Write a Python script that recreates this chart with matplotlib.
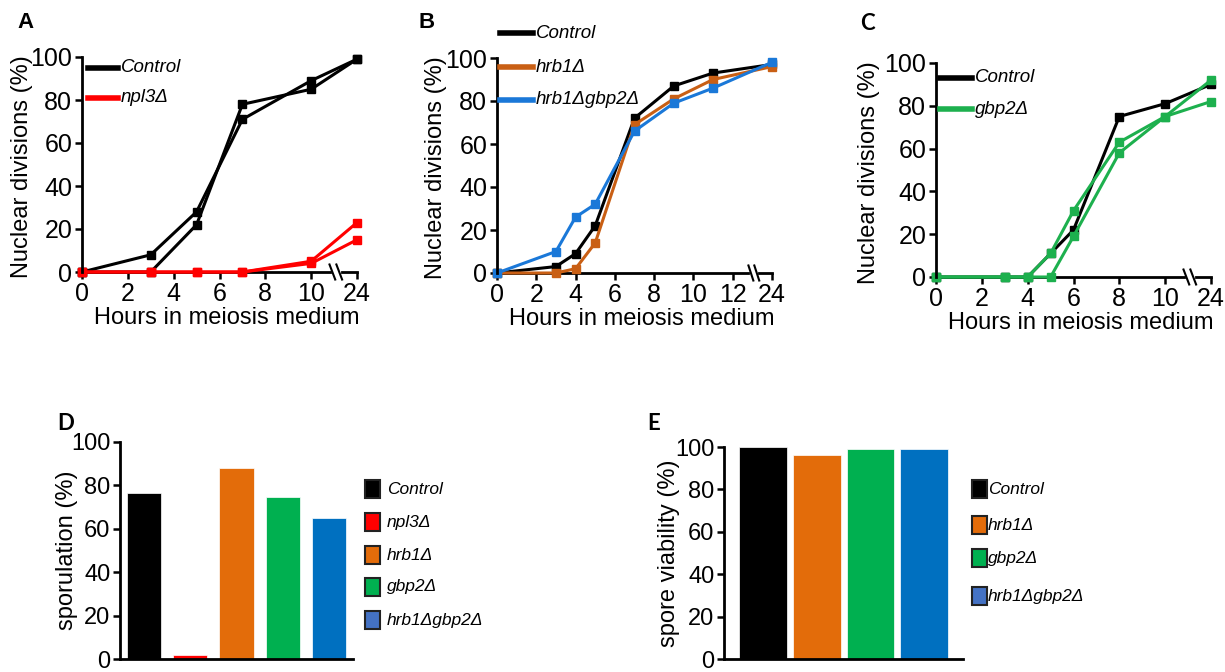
import matplotlib
matplotlib.use("Agg")
import matplotlib.pyplot as plt
from matplotlib.lines import Line2D
from matplotlib.patches import Rectangle

plt.rcParams["font.family"] = ["Liberation Sans", "DejaVu Sans"]

# panel A: nuclear divisions, control vs npl3
hours_a = [0, 3, 5, 7, 10, 24]
control_a1 = [0, 8, 28, 71, 89, 99]
control_a2 = [0, 0, 22, 78, 85, 99]
npl3_a1 = [0, 0, 0, 0, 5, 23]
npl3_a2 = [0, 0, 0, 0, 4, 15]

# panel B
hours_b = [0, 3, 4, 5, 7, 9, 11, 24]
control_b = [0, 3, 9, 22, 72, 87, 93, 97]
hrb1_b = [0, 0, 2, 14, 69, 81, 90, 96]
hrb1gbp2_b = [0, 10, 26, 32, 66, 79, 86, 98]

# panel C
hours_c = [0, 3, 4, 5, 6, 8, 10, 24]
control_c = [0, 0, 0, 11, 22, 75, 81, 90]
gbp2_c1 = [0, 0, 0, 11, 31, 63, 75, 92]
gbp2_c2 = [0, 0, 0, 0, 19, 58, 75, 82]

# panel D / E
strains_d = ["Control", "npl3Δ", "hrb1Δ", "gbp2Δ", "hrb1Δgbp2Δ"]
sporulation = [76.5, 2, 88, 74.5, 65]
strains_e = ["Control", "hrb1Δ", "gbp2Δ", "hrb1Δgbp2Δ"]
viability = [100, 96, 99, 99]

BLACK = "#000000"
RED = "#ff0000"
ORANGE = "#c95f14"
BLUE = "#1a78d8"
GREEN = "#1db04e"
bar_colors = {"Control": "#000000", "npl3Δ": "#ff0000", "hrb1Δ": "#e36c0a",
              "gbp2Δ": "#00b050", "hrb1Δgbp2Δ": "#0070c0"}
legend_colors = {"Control": "#000000", "npl3Δ": "#ff0000", "hrb1Δ": "#e36c0a",
                 "gbp2Δ": "#00b050", "hrb1Δgbp2Δ": "#4472c4"}

W, H = 1225, 672
fig = plt.figure(figsize=(W / 100, H / 100), dpi=100)

FS = 17


def px_axes(left, top, right, bottom):
    return fig.add_axes([left / W, 1 - bottom / H, (right - left) / W, (bottom - top) / H])


def style(ax, tick_fs=18):
    for s in ["top", "right"]:
        ax.spines[s].set_visible(False)
    ax.spines["left"].set_linewidth(2)
    ax.spines["bottom"].set_linewidth(2)
    ax.tick_params(width=1.8, length=5, labelsize=tick_fs, pad=2)


def time_course(ax, last, brk, series, ylab_x):
    style(ax)
    ax.spines["bottom"].set_visible(False)
    tr = ax.get_xaxis_transform()
    ax.plot([0, brk - 0.2], [0, 0], color="k", lw=2, transform=tr, clip_on=False)
    ax.plot([brk + 0.35, last], [0, 0], color="k", lw=2, transform=tr, clip_on=False)
    for dx in (-0.2, 0.1):
        ax.plot([brk + dx, brk + dx + 0.25], [0.035, -0.035], color="k", lw=1.5,
                transform=tr, clip_on=False)
    for hrs, vals, col in series:
        pos = [last if h == 24 else h for h in hrs]
        ax.plot(pos, vals, color=col, lw=2.2, marker="s", markersize=6, clip_on=False)
    ticks = list(range(0, last + 1, 2))
    ax.set_xticks(ticks)
    ax.set_xticklabels([str(t) for t in ticks[:-1]] + ["24"])
    ax.set_xlim(0, last)
    ax.set_ylim(0, 100)
    ax.set_yticks([0, 20, 40, 60, 80, 100])
    ax.set_xlabel("Hours in meiosis medium", fontsize=FS)
    ax.xaxis.set_label_coords(0.527, -0.165)
    ax.set_ylabel("Nuclear divisions (%)", fontsize=FS)
    ax.yaxis.set_label_coords(ylab_x, 0.49)


def line_legend(x0, x1, ys, cols, labels):
    for y, c, lab in zip(ys, cols, labels):
        fig.add_artist(Line2D([x0 / W, x1 / W], [1 - y / H] * 2, color=c, lw=4))
        fig.text((x1 + 3) / W, 1 - y / H, lab, fontsize=13.5, style="italic",
                 va="center", ha="left")


def patch_legend(x0, ys, labels, tx):
    for y, lab in zip(ys, labels):
        fig.add_artist(Rectangle((x0 / W, 1 - (y + 9) / H), 15 / W, 18 / H,
                                 facecolor=legend_colors[lab], edgecolor="#222222", lw=1.5))
        fig.text(tx / W, 1 - y / H, lab, fontsize=12.5, style="italic", va="center", ha="left")


# A
ax_a = px_axes(82, 57, 357, 272)
time_course(ax_a, 12, 11,
            [(hours_a, control_a1, BLACK), (hours_a, control_a2, BLACK),
             (hours_a, npl3_a1, RED), (hours_a, npl3_a2, RED)], -0.178)
line_legend(88, 118, [68, 98], [BLACK, RED], ["Control", "npl3Δ"])

# B
ax_b = px_axes(497, 58, 772, 273)
time_course(ax_b, 14, 13,
            [(hours_b, control_b, BLACK), (hours_b, hrb1_b, ORANGE),
             (hours_b, hrb1gbp2_b, BLUE)], -0.182)
line_legend(500, 533, [33, 67, 100], [BLACK, ORANGE, BLUE], ["Control", "hrb1Δ", "hrb1Δgbp2Δ"])

# C
ax_c = px_axes(936, 63, 1211, 277)
time_course(ax_c, 12, 11,
            [(hours_c, control_c, BLACK), (hours_c, gbp2_c1, GREEN),
             (hours_c, gbp2_c2, GREEN)], -0.204)
line_legend(940, 972, [78, 109], [BLACK, GREEN], ["Control", "gbp2Δ"])

# D
ax_d = px_axes(120, 442, 353, 659)
style(ax_d, 17)
ax_d.bar(range(len(strains_d)), sporulation, width=0.74,
         color=[bar_colors[s] for s in strains_d], edgecolor="white", linewidth=0.5)
ax_d.set_xlim(-0.52, len(strains_d) - 0.48)
ax_d.set_ylim(0, 100)
ax_d.set_yticks([0, 20, 40, 60, 80, 100])
ax_d.set_xticks([])
ax_d.set_ylabel("sporulation (%)", fontsize=FS)
ax_d.yaxis.set_label_coords(-0.18, 0.5)
patch_legend(365, [489, 522, 555, 587, 620], strains_d, 387)

# E
ax_e = px_axes(724, 447, 963, 659)
style(ax_e, 17)
ax_e.bar(range(len(strains_e)), viability, width=0.89,
         color=[bar_colors[s] for s in strains_e], edgecolor="white", linewidth=0.5)
ax_e.set_xlim(-0.725, len(strains_e) - 0.28)
ax_e.set_ylim(0, 100)
ax_e.set_yticks([0, 20, 40, 60, 80, 100])
ax_e.set_xticks([])
ax_e.set_ylabel("spore viability (%)", fontsize=FS)
ax_e.yaxis.set_label_coords(-0.184, 0.5)
patch_legend(972, [489, 525, 558, 596], strains_e, 988)

# panel letters
for lab, x, y, fam in [("A", 17, 28, "Liberation Sans"), ("B", 418, 28, "Liberation Sans"),
                       ("C", 860, 30, "Lato"), ("D", 57, 430, "Lato"), ("E", 647, 430, "Lato")]:
    fig.text(x / W, 1 - y / H, lab, fontsize=16, fontweight="bold", family=fam,
             ha="left", va="baseline")

fig.savefig("out.png", dpi=100)
